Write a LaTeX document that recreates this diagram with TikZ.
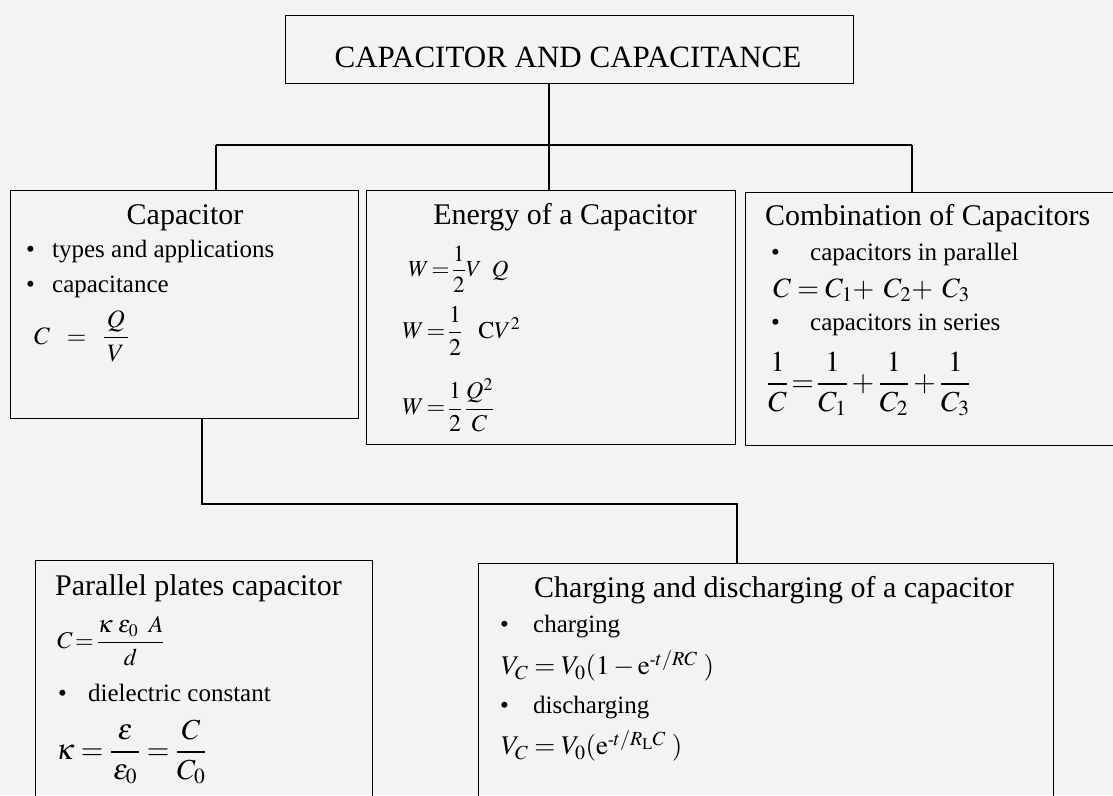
\documentclass[tikz,border=0pt]{standalone}
\usepackage{mathptmx}
\usepackage{fontspec}
\setmainfont{Liberation Serif}
\definecolor{bg}{RGB}{243,243,243}
\newcommand{\shyph}{\mbox{\fontsize{17}{18}\selectfont -}}
\tikzset{
  box/.style={draw, line width=1.3pt, rectangle, anchor=north west, inner sep=0pt},
  conn/.style={line width=1.3pt},
  head/.style={inner sep=0pt, font=\fontsize{30}{36}\selectfont},
  body/.style={inner sep=0pt, anchor=west, font=\fontsize{25}{30}\selectfont},
  eq/.style={inner sep=0pt, anchor=west},
}
\begin{document}
\begin{tikzpicture}[x=1pt,y=-1pt]
\path[fill=bg] (0,0) rectangle (1113,795);
\useasboundingbox (0,0) rectangle (1113,795);

% boxes
\node[box, minimum width=568pt, minimum height=68pt] (top) at (285,15) {};
\node[box, minimum width=348pt, minimum height=228pt] (cap) at (10,190) {};
\node[box, minimum width=369pt, minimum height=254pt] (en) at (366,190) {};
\node[box, minimum width=390pt, minimum height=253pt] (comb) at (745,192) {};
\node[box, minimum width=337pt, minimum height=260pt] (par) at (35,560) {};
\node[box, minimum width=575pt, minimum height=260pt] (chg) at (478,563) {};

% title
\node[inner sep=0pt, font=\fontsize{31}{36}\selectfont] (title) at (568,57) {CAPACITOR AND CAPACITANCE};

% connectors
\coordinate (ttop) at (549,83);
\coordinate (tj) at (549,145);
\coordinate (hl) at (216,145);
\coordinate (hr) at (912,145);
\coordinate (cb) at (202,418);
\coordinate (lj1) at (202,504);
\coordinate (lj2) at (737,504);
\draw[conn] (ttop) -- (tj |- en.north);
\draw[conn] (hl) -- (hr);
\draw[conn] (hl) -- (hl |- cap.north);
\draw[conn] (hr) -- (hr |- comb.north);
\draw[conn] (cb) -- (lj1) -- (lj2) -- (lj2 |- chg.north);

% Capacitor
\node[head] (capH) at (185,218) {Capacitor};
\node[body] (capB1) at (26,252) {\makebox[26pt][l]{\textbullet}types and applications};
\node[body] (capB2) at (26,287) {\makebox[26pt][l]{\textbullet}capacitance};
\node[eq, font=\fontsize{25}{30}\selectfont] (capF) at (34,336) {$\displaystyle C \;\;=\;\; \frac{\,Q\,}{V}$};

% Energy
\node[eq, font=\fontsize{23}{26}\selectfont] (enF1) at (408,269) {$\displaystyle W\!=\!\frac{1}{2}V\;\;Q$};
\node[eq, font=\fontsize{24}{28}\selectfont] (enF2) at (402,331) {$\displaystyle W\,{=}\,\frac{1}{2}\;\;\;\mathrm{C}V^{2}$};
\node[eq, font=\fontsize{24}{28}\selectfont] (enF3) at (402,405) {$\displaystyle W\,{=}\,\frac{1}{2}\,\frac{Q^{2}}{C}$};
\node[head] (enH) at (565,217) {Energy of a Capacitor};

% Combination
\node[head, anchor=west] (combH) at (765,218) {Combination of Capacitors};
\node[body] (combB1) at (771,254) {\makebox[39pt][l]{\textbullet}capacitors in parallel};
\node[eq, font=\fontsize{28}{32}\selectfont] (combF1) at (773,290) {$C = C_{1}{+}\;\,C_{2}{+}\;\,C_{3}$};
\node[body] (combB2) at (771,325) {\makebox[39pt][l]{\textbullet}capacitors in series};
\node[eq, font=\fontsize{29}{34}\selectfont] (combF2) at (767,384) {$\displaystyle \frac{1}{C}\!=\!\frac{1}{C_{1}}+\frac{1}{C_{2}}+\frac{1}{C_{3}}$};

% Parallel plates
\node[head, anchor=west] (parH) at (55,588) {Parallel plates capacitor};
\node[eq, font=\fontsize{24}{28}\selectfont] (parF1) at (57,641) {$\displaystyle C\!=\!\frac{\kappa\;\varepsilon_{0}\;\;A}{d}$};
\node[body] (parB) at (58,693) {\makebox[30pt][l]{\textbullet}dielectric constant};
\node[eq, font=\fontsize{29}{34}\selectfont] (parF2) at (56,752) {$\displaystyle \kappa=\frac{\;\varepsilon\;}{\varepsilon_{0}}=\frac{C}{C_{0}}$};

% Charging
\node[head, anchor=west] (chgH) at (534,590) {Charging and discharging of a capacitor};
\node[body] (chgB1) at (500,627) {\makebox[33pt][l]{\textbullet}charging};
\node[eq, font=\fontsize{27}{32}\selectfont] (chgF1) at (501,666) {$V_{C} = V_{0}(1-\mathrm{e}^{\shyph t/RC}\;)$};
\node[body] (chgB2) at (500,708) {\makebox[33pt][l]{\textbullet}discharging};
\node[eq, font=\fontsize{27}{32}\selectfont] (chgF2) at (501,746) {$V_{C} = V_{0}(\mathrm{e}^{\shyph t/R_{\mathrm{L}}C}\;)$};
\end{tikzpicture}
\end{document}
